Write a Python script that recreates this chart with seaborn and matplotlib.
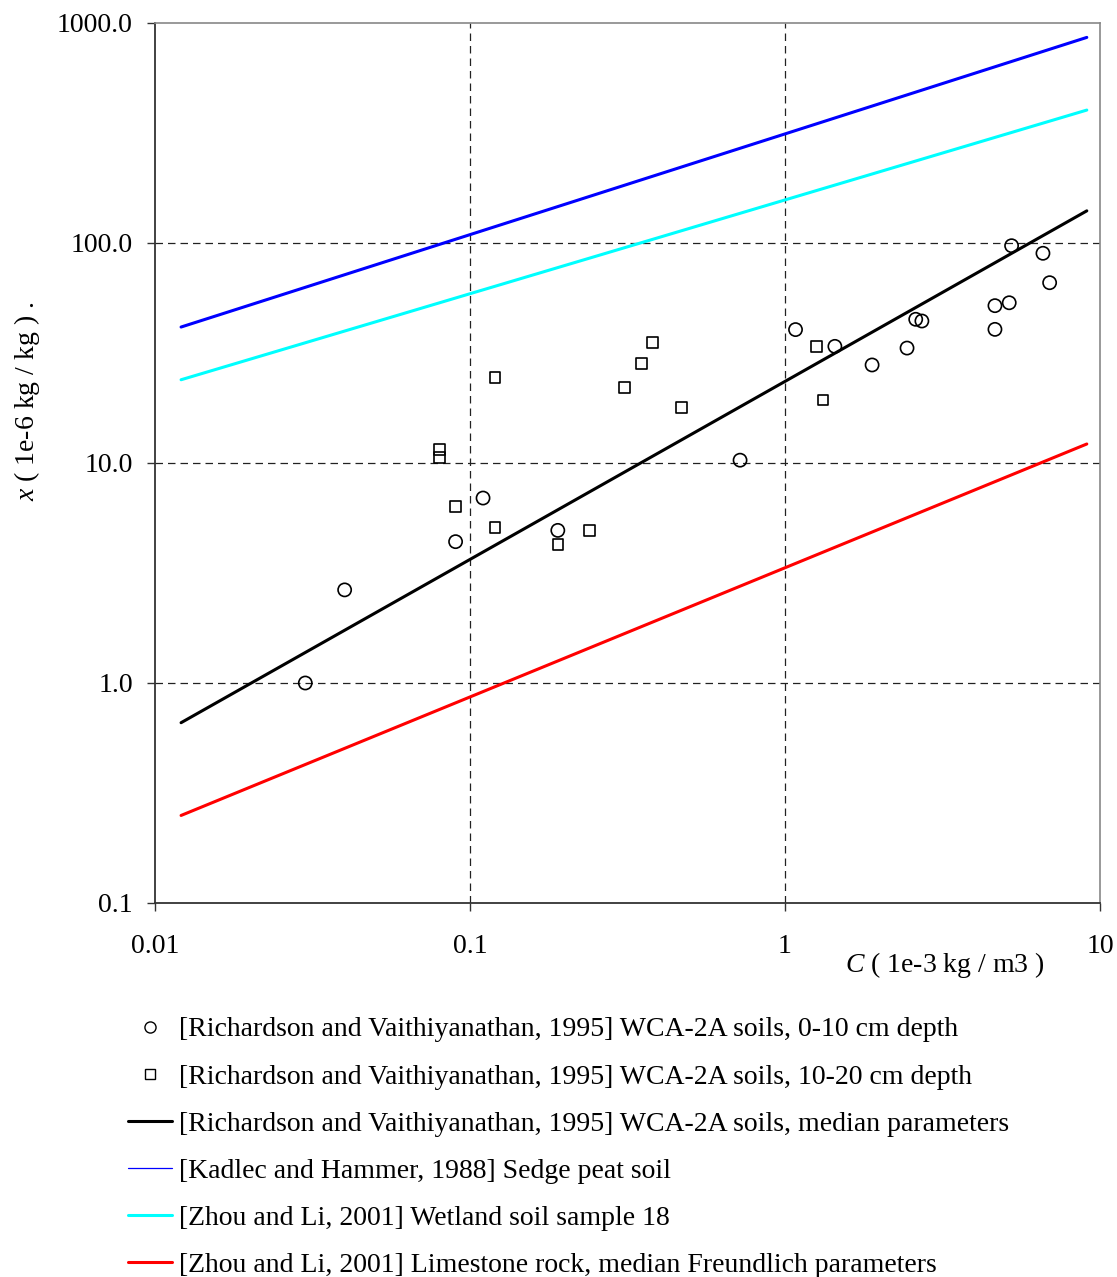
import numpy as np
import pandas as pd
import matplotlib
matplotlib.use("Agg")
import matplotlib.pyplot as plt
from matplotlib.lines import Line2D
from matplotlib.ticker import FixedLocator, FixedFormatter, NullLocator
import seaborn as sns

# Sorption data: C in 1e-3 kg/m3, x in 1e-6 kg/kg
depth_0_10_c = [0.03, 0.04, 0.09, 0.11, 0.19, 0.72, 1.08, 1.44, 1.89, 2.44,
                2.60, 2.72, 4.64, 4.64, 5.15, 5.24, 6.59, 6.92]
depth_0_10_x = [1.0, 2.65, 4.39, 6.93, 4.94, 10.3, 40.4, 33.9, 27.9, 33.3,
                45.0, 44.2, 40.5, 51.9, 53.5, 97.2, 89.8, 66.0]

depth_10_20_c = [0.08, 0.08, 0.09, 0.12, 0.12, 0.19, 0.24, 0.31, 0.35, 0.38,
                 0.47, 1.26, 1.32]
depth_10_20_x = [11.5, 10.6, 6.35, 24.4, 5.08, 4.27, 4.94, 22.0, 28.4, 35.4,
                 17.9, 33.8, 19.3]

# Freundlich isotherm end points (straight lines on log-log axes)
curve_c = [0.0121, 9.08]
median_x = [0.66, 140.0]
sedge_x = [41.5, 860.0]
wetland_x = [23.9, 402.0]
limestone_x = [0.25, 12.2]

labels = [
    "[Richardson and Vaithiyanathan, 1995] WCA-2A soils, 0-10 cm depth",
    "[Richardson and Vaithiyanathan, 1995] WCA-2A soils, 10-20 cm depth",
    "[Richardson and Vaithiyanathan, 1995] WCA-2A soils, median parameters",
    "[Kadlec and Hammer, 1988] Sedge peat soil",
    "[Zhou and Li, 2001] Wetland soil sample 18",
    "[Zhou and Li, 2001] Limestone rock, median Freundlich parameters",
]

y_ticks = [0.1, 1.0, 10.0, 100.0, 1000.0]
y_tick_labels = ["0.1", "1.0", "10.0", "100.0", "1000.0"]
x_ticks = [0.01, 0.1, 1, 10]
x_tick_labels = ["0.01", "0.1", "1", "10"]

sns.set_theme(style="white")
plt.rcParams["font.family"] = ["Liberation Serif", "DejaVu Serif"]
plt.rcParams["text.color"] = "black"
plt.rcParams["mathtext.fontset"] = "custom"
plt.rcParams["mathtext.it"] = "Liberation Serif:italic"
plt.rcParams["mathtext.rm"] = "Liberation Serif"

lines_df = pd.DataFrame({
    "C": curve_c * 4,
    "x": median_x + sedge_x + wetland_x + limestone_x,
    "series": [labels[2]] * 2 + [labels[3]] * 2 + [labels[4]] * 2 + [labels[5]] * 2,
})
palette = {labels[2]: "#000000", labels[3]: "#0000FF",
           labels[4]: "#00FFFF", labels[5]: "#FF0000"}

fig = plt.figure(figsize=(11.17, 12.77), dpi=100)
ax = fig.add_axes([155 / 1117, 1 - 903 / 1277, 945 / 1117, 880 / 1277])
ax.set_xscale("log")
ax.set_yscale("log")

sns.lineplot(data=lines_df, x="C", y="x", hue="series", palette=palette,
             linewidth=2.2, legend=False, ax=ax, zorder=3, estimator=None,
             sort=False)

sns.scatterplot(x=depth_0_10_c, y=depth_0_10_x, marker="o", s=90,
                facecolors="none", edgecolor="black", linewidth=1.2,
                ax=ax, zorder=4)
sns.scatterplot(x=depth_10_20_c, y=depth_10_20_x, marker="s", s=58,
                facecolors="none", edgecolor="black", linewidth=1.2,
                ax=ax, zorder=4)

ax.set_xlim(0.01, 10)
ax.set_ylim(0.1, 1000)

ax.xaxis.set_major_locator(FixedLocator(x_ticks))
ax.xaxis.set_major_formatter(FixedFormatter(x_tick_labels))
ax.yaxis.set_major_locator(FixedLocator(y_ticks))
ax.yaxis.set_major_formatter(FixedFormatter(y_tick_labels))
ax.xaxis.set_minor_locator(NullLocator())
ax.yaxis.set_minor_locator(NullLocator())

ax.tick_params(axis="both", which="major", direction="out", length=6,
               width=1, color="#333333", labelsize=20, labelcolor="black")
ax.tick_params(axis="x", pad=16, bottom=True)
ax.tick_params(axis="y", pad=10, left=True)

ax.grid(True, which="major", color="#222222", linestyle=(0, (6, 4)),
        linewidth=0.9)
ax.set_axisbelow(True)
# no dashed grid on top of the frame edges
for ticks in (ax.xaxis.get_major_ticks(), ax.yaxis.get_major_ticks()):
    ticks[0].gridline.set_visible(False)
    ticks[-1].gridline.set_visible(False)

for side in ["left", "bottom"]:
    ax.spines[side].set_color("#333333")
    ax.spines[side].set_linewidth(1.3)
for side in ["top", "right"]:
    ax.spines[side].set_color("#888888")
    ax.spines[side].set_linewidth(1.2)

ax.set_xlabel("$C$ ( 1e-3 kg / m3 )", fontsize=20, color="black")
ax.xaxis.set_label_coords(0.836, -0.053)
ax.xaxis.label.set_verticalalignment("top")
ax.set_ylabel("$x$ ( 1e-6 kg / kg ) .", fontsize=20, color="black")
ax.yaxis.set_label_coords(-0.12, 0.57)

handles = [
    Line2D([], [], linestyle="none", marker="o", markersize=8,
           markerfacecolor="none", markeredgecolor="black", markeredgewidth=1),
    Line2D([], [], linestyle="none", marker="s", markersize=6.5,
           markerfacecolor="none", markeredgecolor="black", markeredgewidth=1),
    Line2D([], [], color="#000000", linewidth=2.2),
    Line2D([], [], color="#0000FF", linewidth=0.9),
    Line2D([], [], color="#00FFFF", linewidth=2.2),
    Line2D([], [], color="#FF0000", linewidth=2.2),
]
fig.legend(handles, labels, loc="upper left",
           bbox_to_anchor=(128 / 1117, 1 - 1017 / 1277),
           frameon=False, fontsize=20, handlelength=1.6, handletextpad=0.25,
           labelspacing=0.78, borderpad=0, borderaxespad=0,
           labelcolor="black")

fig.savefig("out.png", dpi=100, facecolor="white")
